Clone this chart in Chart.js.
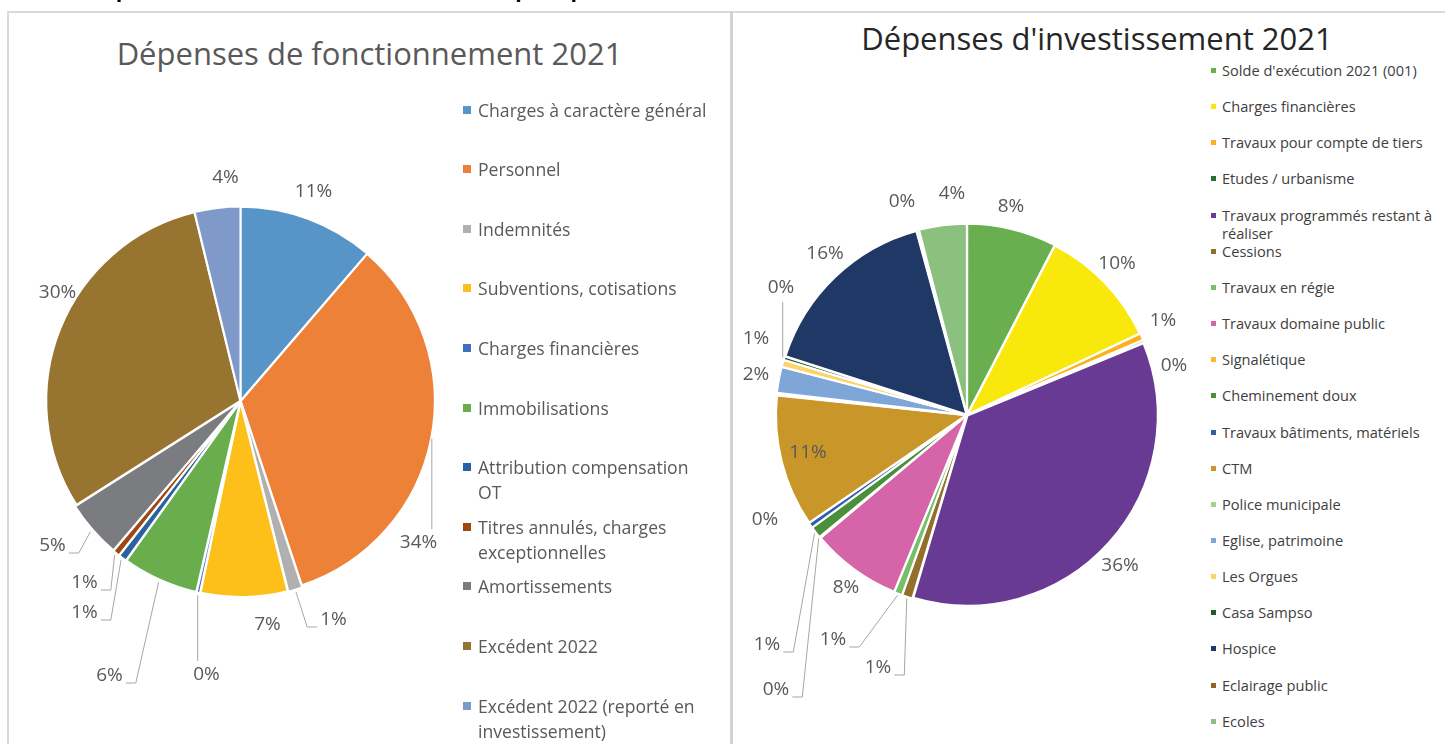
<!DOCTYPE html>
<html lang="fr">
<head>
<meta charset="utf-8">
<title>Dépenses 2021</title>
<script src="https://cdn.jsdelivr.net/npm/chart.js@4.4.1/dist/chart.umd.min.js"></script>
<style>
  html, body { margin: 0; padding: 0; background: #fff; }
  #page { position: relative; width: 1445px; height: 744px; overflow: hidden; font-family: 'Open Sans', sans-serif; }
  .top-text { position: absolute; left: 50px; top: -21px; font-weight: bold; font-size: 21px; line-height: 21px; color: #000; white-space: nowrap; }
  .line { position: absolute; background: #d9d9d9; }
  .title { position: absolute; text-align: center; white-space: nowrap; font-size: 31px; line-height: 40px; }
  .wrap { position: absolute; }
  .legend { position: absolute; }
  .lg-item { position: absolute; left: 0; }
  .lg-item .sw { position: absolute; left: 0; }
  .lg-item .tx { position: absolute; }
  #fonctLegend .tx { left: 15px; width: 236px; font-size: 17.6px; line-height: 25px; color: #595959; }
  #fonctLegend .sw { width: 8px; height: 8px; top: 8px; }
  #investLegend .tx { left: 11px; width: 214px; font-size: 14.6px; line-height: 18px; color: #404040; }
  #investLegend .sw { width: 5px; height: 5px; top: 7px; }
</style>
</head>
<body>
<div id="page">
  <div class="top-text">Les dépenses : Ventilées en fonctionnement pour pouvoir investir</div>
  <div class="line" style="left:7px;top:11px;width:1438px;height:2px;"></div>
  <div class="line" style="left:7px;top:11px;width:2px;height:733px;"></div>
  <div class="line" style="left:730px;top:11px;width:3px;height:733px;background:#d2d2d2;"></div>

  <div class="title" style="left:9px;width:721px;top:33px;color:#595959;">Dépenses de fonctionnement 2021</div>
  <div class="title" style="left:834px;width:526px;top:18px;color:#262626;">Dépenses d'investissement 2021</div>

  <div class="wrap" style="left:0;top:60px;width:481px;height:682px;"><canvas id="chartFonct"></canvas></div>
  <div class="wrap" style="left:740px;top:90px;width:454px;height:650px;"><canvas id="chartInvest"></canvas></div>

  <div class="legend" id="fonctLegend" style="left:463px;top:0;"></div>
  <div class="legend" id="investLegend" style="left:1211px;top:0;"></div>
</div>

<script>
// --- Données : dépenses de fonctionnement 2021 (part en %) ---
const fonctLabels = [
  'Charges à caractère général', 'Personnel', 'Indemnités', 'Subventions, cotisations',
  'Charges financières', 'Immobilisations', 'Attribution compensation OT',
  'Titres annulés, charges exceptionnelles', 'Amortissements', 'Excédent 2022',
  'Excédent 2022 (reporté en investissement)'
];
const fonctValues = [11.3, 33.6, 1.2, 7.2, 0.3, 6.3, 0.7, 0.6, 4.8, 30.2, 3.8];
const fonctColors = [
  '#5794c8', '#ee8138', '#b0b0b0', '#fdc01a', '#3f6fbf', '#6aad4d',
  '#2a62a0', '#9f4710', '#7b7c80', '#977430', '#7f99c9'
];

// --- Données : dépenses d'investissement 2021 (part en %) ---
const investLabels = [
  "Solde d'exécution 2021 (001)", 'Charges financières', 'Travaux pour compte de tiers',
  'Etudes / urbanisme', 'Travaux programmés restant à réaliser', 'Cessions',
  'Travaux en régie', 'Travaux domaine public', 'Signalétique', 'Cheminement doux',
  'Travaux bâtiments, matériels', 'CTM', 'Police municipale', 'Eglise, patrimoine',
  'Les Orgues', 'Casa Sampso', 'Hospice', 'Eclairage public', 'Ecoles'
];
const investValues = [7.6, 10.4, 0.6, 0.2, 35.8, 0.9, 0.7, 7.7, 0.1, 1.0, 0.45, 11.2, 0.2, 2.2, 0.6, 0.3, 15.8, 0.2, 4.05];
const investColors = [
  '#6aaf4f', '#f8e80c', '#fbb21a', '#2e6b2e', '#683a94', '#93702a', '#76c06a',
  '#d565a8', '#fdb92f', '#4a8f3a', '#2f5ea8', '#c9962a', '#9fd48a', '#7ea6d6',
  '#fdd46b', '#1f5a2a', '#1f3866', '#8a6626', '#8bc07e'
];

// Éclatement des parts (px) : les petites parts du bas sont détachées dans Excel
const fonctOffsets = [1, 1, 5, 5, 5, 5, 5, 5, 5, 1, 1];
const investOffsets = 3;

// Placement des étiquettes % : [dx, dy depuis le centre, type de ligne de rappel]
// 0 = aucune, 1 = coude vers le côté de l'étiquette, 2 = trait vertical
const fonctLabelPos = [
  [73, -209, 0], [178, 142, 2], [93, 219, 1], [27, 224, 0], [-34, 274, 2],
  [-131, 275, 1], [-156, 212, 1], [-156, 182, 1], [-188, 145, 1],
  [-183, -108, 0], [-15, -223, 0]
];
const investLabelPos = [
  [44, -208, 0], [150, -151, 0], [196, -94, 0], [207, -49, 0], [153, 151, 0],
  [-89, 253, 1], [-134, 225, 1], [-121, 173, 0], [-191, 275, 1], [-200, 230, 1],
  [-202, 105, 0], [-159, 38, 0], null, [-211, -40, 0], [-211, -76, 0],
  [-186, -127, 2], [-142, -161, 0], [-65, -213, 0], [-15, -221, 0]
];

// --- Plugin : étiquettes de pourcentage avec lignes de rappel ---
const pctLabels = {
  id: 'pctLabels',
  afterDatasetsDraw(chart, args, opts) {
    const ctx = chart.ctx;
    const meta = chart.getDatasetMeta(0);
    const data = chart.data.datasets[0].data;
    const total = data.reduce((a, b) => a + b, 0);
    ctx.save();
    ctx.font = opts.font;
    ctx.textAlign = 'center';
    ctx.textBaseline = 'middle';
    ctx.strokeStyle = '#a6a6a6';
    ctx.lineWidth = 1;
    meta.data.forEach((arc, i) => {
      const p = opts.place[i];
      if (!p) return;
      const { x, y, startAngle, endAngle, outerRadius } =
        arc.getProps(['x', 'y', 'startAngle', 'endAngle', 'outerRadius'], true);
      const mid = (startAngle + endAngle) / 2;
      const r = outerRadius + (arc.options.offset || 0);
      const ax = x + Math.cos(mid) * r, ay = y + Math.sin(mid) * r;
      const lx = x + p[0], ly = y + p[1];
      const text = Math.round(data[i] / total * 100) + '%';
      const w = ctx.measureText(text).width / 2 + 3;
      if (p[2] === 1) {
        const side = ax > lx ? 1 : -1;
        const ex = lx + side * w, ey = ly + 7;
        ctx.beginPath();
        ctx.moveTo(ax, ay);
        ctx.lineTo(ex + side * 10, ey);
        ctx.lineTo(ex, ey);
        ctx.stroke();
      } else if (p[2] === 2) {
        const vert = ay > ly ? 1 : -1;
        ctx.beginPath();
        ctx.moveTo(ax, ay);
        ctx.lineTo(ax, ly + vert * 14);
        ctx.stroke();
      }
      ctx.fillStyle = opts.color;
      ctx.fillText(text, lx, ly);
    });
    ctx.restore();
  }
};

function pieConfig(labels, values, colors, radius, offsets, place) {
  return {
    type: 'pie',
    data: {
      labels: labels,
      datasets: [{
        data: values,
        backgroundColor: colors,
        borderColor: '#ffffff',
        borderWidth: 2,
        offset: offsets,
        radius: radius
      }]
    },
    options: {
      responsive: true,
      maintainAspectRatio: false,
      animation: false,
      events: [],
      layout: { padding: 0 },
      plugins: {
        legend: { display: false },
        tooltip: { enabled: false },
        pctLabels: { place: place, font: '19px "Open Sans"', color: '#595959' }
      }
    },
    plugins: [pctLabels]
  };
}

// --- Légendes HTML (positionnées comme dans Excel, pas fixe) ---
function buildLegend(el, labels, colors, y0, pitch) {
  labels.forEach((t, i) => {
    const item = document.createElement('div');
    item.className = 'lg-item';
    item.style.top = (y0 + i * pitch) + 'px';
    const sw = document.createElement('span');
    sw.className = 'sw';
    sw.style.background = colors[i];
    const tx = document.createElement('span');
    tx.className = 'tx';
    tx.textContent = t;
    item.append(sw, tx);
    el.appendChild(item);
  });
}

buildLegend(document.getElementById('fonctLegend'), fonctLabels, fonctColors, 97.5, 59.6);
buildLegend(document.getElementById('investLegend'), investLabels, investColors, 61, 36.15);

new Chart(document.getElementById('chartFonct'),
  pieConfig(fonctLabels, fonctValues, fonctColors, 194, fonctOffsets, fonctLabelPos));
new Chart(document.getElementById('chartInvest'),
  pieConfig(investLabels, investValues, investColors, 190, investOffsets, investLabelPos));
</script>
</body>
</html>
